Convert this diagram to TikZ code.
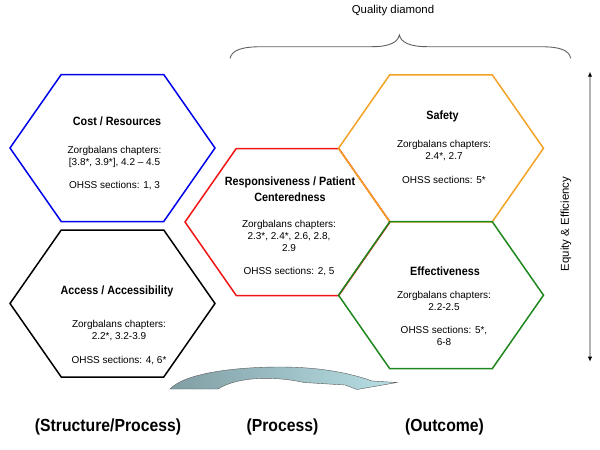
\documentclass[tikz,border=0pt]{standalone}
\usepackage{fontspec}
\setmainfont{Liberation Sans}
\newfontfamily\tallsans[FakeStretch=0.9]{Liberation Sans}
\usetikzlibrary{arrows.meta}
\definecolor{hexblue}{RGB}{0,0,235}
\definecolor{hexorange}{RGB}{242,162,36}
\definecolor{hexgreen}{RGB}{30,135,30}
\definecolor{hexred}{RGB}{240,20,20}
\definecolor{arrowdark}{RGB}{128,158,164}
\definecolor{arrowlight}{RGB}{184,224,230}
\definecolor{bracegray}{RGB}{95,95,95}
\begin{document}
\begin{tikzpicture}[x=1pt,y=-1pt,
  hexline/.style={line width=1.5pt, line join=miter},
  ttl/.style={font=\tallsans\fontsize{12}{15.6}\selectfont\bfseries, align=center, inner sep=0pt},
  bdy/.style={font=\fontsize{10}{12}\selectfont, align=center, inner sep=0pt},
  lbl/.style={font=\tallsans\fontsize{17.5}{20}\selectfont\bfseries, inner sep=0pt},
  smalltxt/.style={font=\fontsize{11.4}{13}\selectfont, inner sep=0pt}]
\useasboundingbox (0,0) rectangle (600,450);

% hexagons
\draw[hexline,hexblue,shift={(112.5,148)}] (-102.5,0) -- (-51.25,-73.5) -- (51.25,-73.5) -- (102.5,0) -- (51.25,73.5) -- (-51.25,73.5) -- cycle;
\draw[hexline,black,shift={(112.5,303.5)}] (-102.5,0) -- (-51.25,-73.5) -- (51.25,-73.5) -- (102.5,0) -- (51.25,73.5) -- (-51.25,73.5) -- cycle;
\draw[hexline,hexred,shift={(287.5,222)}] (-102.5,0) -- (-51.25,-73.5) -- (51.25,-73.5) -- (102.5,0) -- (51.25,73.5) -- (-51.25,73.5) -- cycle;
\draw[hexline,hexorange,shift={(441,148.3)}] (-102.5,0) -- (-51.25,-73.5) -- (51.25,-73.5) -- (102.5,0) -- (51.25,73.5) -- (-51.25,73.5) -- cycle;
\draw[hexline,hexgreen,shift={(441,295.2)}] (-102.5,0) -- (-51.25,-73.5) -- (51.25,-73.5) -- (102.5,0) -- (51.25,73.5) -- (-51.25,73.5) -- cycle;

% texts in hexagons
\node[ttl] (costT) at (117,121.7) {Cost / Resources};
\node[bdy] (costB) at (114.5,168) {Zorgbalans chapters:\\{[}3.8*, 3.9*], 4.2 – 4.5\\[11.5pt]OHSS sections: 1, 3};

\node[ttl] (accT) at (117,291.7) {Access / Accessibility};
\node[bdy] (accB) at (119,342.5) {Zorgbalans chapters:\\2.2*, 3.2-3.9\\[11.5pt]OHSS sections: 4, 6*};

\node[ttl] (respT) at (290,189.5) {Responsiveness / Patient\\Centeredness};
\node[bdy] (respB) at (289,248) {Zorgbalans chapters:\\2.3*, 2.4*, 2.6, 2.8,\\2.9\\[11.5pt]OHSS sections: 2, 5};

\node[ttl] (safT) at (442.5,116.7) {Safety};
\node[bdy] (safB) at (444,161.8) {Zorgbalans chapters:\\2.4*, 2.7\\[11.5pt]OHSS sections: 5*};

\node[ttl] (effT) at (445,271.7) {Effectiveness};
\node[bdy] (effB) at (444,318.3) {Zorgbalans chapters:\\2.2-2.5\\[11.5pt]OHSS sections: 5*,\\6-8};

% quality diamond brace
\node[smalltxt] (qd) at (393,10.5) {Quality diamond};
\draw[bracegray, line width=0.9pt] (230,58.3) .. controls (232,50) and (242,46.7) .. (262,46.7) -- (372,46.7) .. controls (390,46.7) and (398,42) .. (399.3,35) .. controls (401,42) and (409,46.7) .. (427,46.7) -- (540,46.7) .. controls (560,46.7) and (569,50) .. (570.7,58.3);

% equity arrow
\coordinate (eqTop) at (590,71.7);
\coordinate (eqBot) at (590,361.7);
\draw[gray!60, line width=1.3pt, {Latex[color=black,length=5pt,width=4.5pt]}-{Latex[color=black,length=5pt,width=4.5pt]}] (eqTop) -- (eqBot);
\node[smalltxt, rotate=90] (eq) at (566,224) {Equity \& Efficiency};

% curved block arrow
\shade[left color=arrowdark, right color=arrowlight, draw=gray!70!black, line width=0.4pt]
  (170,389) .. controls (185,373) and (235,367) .. (280,367)
  .. controls (320,367) and (350,373) .. (372,381)
  -- (397,382.5) -- (357,389.5) -- (345,385) -- (304,382.5)
  .. controls (280,377) and (240,375) .. (218,389) -- cycle;

% bottom labels
\node[lbl] (lStruct) at (108,427) {(Structure/Process)};
\node[lbl] (lProc) at (282.5,427) {(Process)};
\node[lbl] (lOut) at (444.5,427) {(Outcome)};
\end{tikzpicture}
\end{document}
